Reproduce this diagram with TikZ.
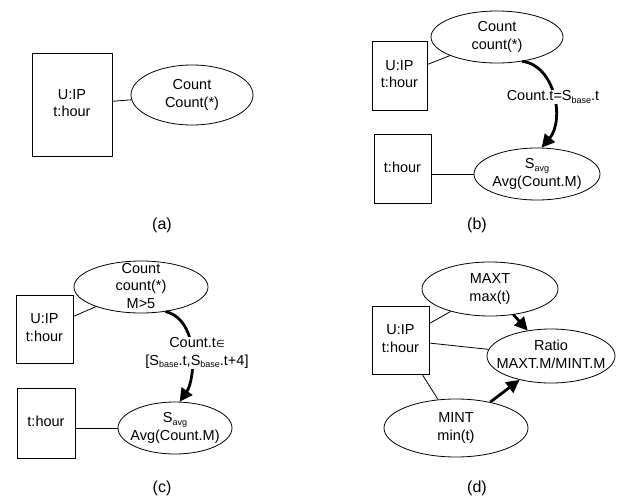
\documentclass[tikz,border=0pt]{standalone}
\usepackage{fontspec}
\setmainfont{Liberation Sans}
\newfontfamily\symfont{DejaVu Sans}
\usetikzlibrary{shapes.geometric,arrows.meta}
\newcommand\ctext[1]{\vbox to 0pt{\vss\hbox to 0pt{\hss\begin{tabular}{@{}c@{}}#1\end{tabular}\hss}\vss}}
\newcommand\sbs[1]{\raisebox{-0.35ex}{\fontsize{9}{9}\selectfont #1}}
\begin{document}
\begin{tikzpicture}[x=1pt,y=-1pt,
  every node/.style={font=\fontsize{14.5}{17.5}\selectfont},
  box/.style={draw, rectangle, inner sep=0pt, line width=0.8pt},
  ell/.style={draw, ellipse, inner sep=0pt, line width=0.8pt},
  lnk/.style={line width=0.8pt},
  arr/.style={line width=2.8pt, -{Triangle[length=13pt,width=13pt]}},
  elab/.style={fill=white, inner sep=1pt, align=center},
  panellbl/.style={font=\fontsize{16}{18}\selectfont}]
\useasboundingbox[fill=white] (0,0) rectangle (630,498);
% (a)
\node[box, minimum width=80pt, minimum height=103pt] (ar) at (72,104.5) {\ctext{U:IP\\t:hour}};
\node[ell, minimum width=122pt, minimum height=60pt] (ae) at (192,95) {\ctext{Count\\Count(*)}};
\draw[lnk] (ar) -- (ae);
\node[panellbl] (la) at (162,225) {(a)};
% (b)
\node[box, minimum width=55pt, minimum height=69pt] (br1) at (399.5,75.5) {\ctext{U:IP\\t:hour}};
\node[ell, minimum width=132pt, minimum height=52pt] (be1) at (497,37) {\ctext{Count\\count(*)}};
\node[box, minimum width=57pt, minimum height=69pt] (br2) at (402.5,168.5) {\ctext{t:hour}};
\node[ell, minimum width=126pt, minimum height=52pt] (be2) at (537,174) {\ctext{S\sbs{avg}\\Avg(Count.M)}};
\draw[lnk] (br1) -- (be1);
\draw[lnk] (br2.east |- be2.west) -- (be2.west);
\draw[arr] (be1.-44) .. controls (555,65) and (565,120) .. (be2.80);
\node[elab] (bl) at (553,97) {Count.t=S\sbs{base}.t};
\node[panellbl] (lb) at (477,225) {(b)};
% (c)
\node[box, minimum width=57pt, minimum height=68pt] (cr1) at (44.5,329) {\ctext{U:IP\\t:hour}};
\node[ell, minimum width=134pt, minimum height=52pt] (ce1) at (141,287) {\ctext{Count\\count(*)\\M>5}};
\node[box, minimum width=58pt, minimum height=70pt] (cr2) at (46,423) {\ctext{t:hour}};
\node[ell, minimum width=114pt, minimum height=52pt] (ce2) at (175,428) {\ctext{S\sbs{avg}\\Avg(Count.M)}};
\draw[lnk] (cr1) -- (ce1);
\draw[lnk] (cr2.east |- ce2.west) -- (ce2.west);
\draw[arr] (ce1.-45) .. controls (200,320) and (195,380) .. (ce2.80);
\node[elab] (cl) at (197,353) {Count.t{\symfont\fontsize{10}{10}\selectfont ∈}\\{[}S\sbs{base}.t,S\sbs{base}.t+4]};
\node[panellbl] (lc) at (162,488) {(c)};
% (d)
\node[box, minimum width=57pt, minimum height=68pt] (dr) at (400.5,340) {\ctext{U:IP\\t:hour}};
\node[ell, minimum width=136pt, minimum height=54pt] (dmax) at (490,289) {\ctext{MAXT\\max(t)}};
\node[ell, minimum width=128pt, minimum height=54pt] (drat) at (551,356) {\ctext{Ratio\\MAXT.M/MINT.M}};
\node[ell, minimum width=144pt, minimum height=58pt] (dmin) at (456,428) {\ctext{MINT\\min(t)}};
\draw[lnk] (dr) -- (dmax);
\draw[lnk] (dr) -- (drat);
\draw[lnk] (dr) -- (dmin);
\draw[arr] (dmax) -- (drat);
\draw[arr] (dmin) -- (drat);
\node[panellbl] (ld) at (477,488) {(d)};
\end{tikzpicture}
\end{document}
